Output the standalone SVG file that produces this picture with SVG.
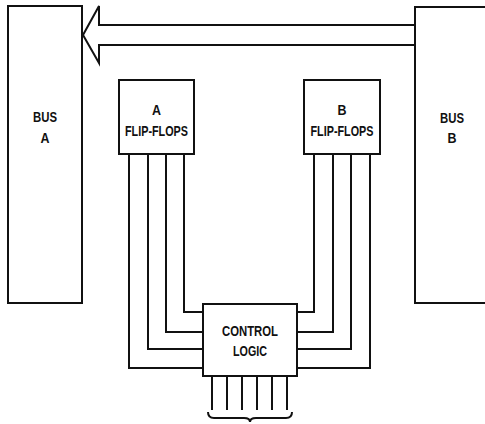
<svg xmlns="http://www.w3.org/2000/svg" width="485" height="424" viewBox="0 0 485 424">
<style>
.box{fill:#fff;stroke:#111;stroke-width:2}
.ln{fill:none;stroke:#111;stroke-width:2;stroke-linejoin:miter}
.t{font-family:"Liberation Sans Narrow","Liberation Sans",Arial,sans-serif;font-weight:bold;font-size:15px;fill:#111;text-anchor:middle}
</style>
<rect width="485" height="424" fill="#fff"/>
<g id="connectors">
<polygon class="ln" points="415,25 99,25 99,6 83,35 99,63 99,45 415,45"/>
<path class="ln" d="M129,154V368H203M148,154V349H203M166,154V332H203M184,154V312H203"/>
<path class="ln" d="M370,154V368H297M351,154V349H297M333,154V332H297M314,154V312H297"/>
<path class="ln" d="M212,376V410M227,376V410M242,376V410M257,376V410M272,376V410M287,376V410"/>
<path class="ln" d="M208,412Q208,418 214,418H244Q250,418 250,422Q250,418 256,418H286Q292,418 292,412"/>
</g>
<g id="busA">
<rect class="box" x="8" y="6" width="74" height="297"/>
<text class="t" x="45" y="122" textLength="24" lengthAdjust="spacingAndGlyphs">BUS</text>
<text class="t" x="45" y="143" textLength="9" lengthAdjust="spacingAndGlyphs">A</text>
</g>
<g id="busB">
<rect class="box" x="415" y="7" width="80" height="296"/>
<text class="t" x="452" y="123" textLength="24" lengthAdjust="spacingAndGlyphs">BUS</text>
<text class="t" x="452" y="143" textLength="9" lengthAdjust="spacingAndGlyphs">B</text>
</g>
<g id="ffA">
<rect class="box" x="119" y="80" width="75" height="74"/>
<text class="t" x="156.5" y="115" textLength="9" lengthAdjust="spacingAndGlyphs">A</text>
<text class="t" x="156.5" y="136" textLength="63" lengthAdjust="spacingAndGlyphs">FLIP-FLOPS</text>
</g>
<g id="ffB">
<rect class="box" x="304" y="80" width="76" height="74"/>
<text class="t" x="342" y="115" textLength="9" lengthAdjust="spacingAndGlyphs">B</text>
<text class="t" x="342" y="136" textLength="63" lengthAdjust="spacingAndGlyphs">FLIP-FLOPS</text>
</g>
<g id="control">
<rect class="box" x="203" y="304" width="94" height="72"/>
<text class="t" x="250" y="336" textLength="56" lengthAdjust="spacingAndGlyphs">CONTROL</text>
<text class="t" x="250" y="356" textLength="34" lengthAdjust="spacingAndGlyphs">LOGIC</text>
</g>
</svg>
